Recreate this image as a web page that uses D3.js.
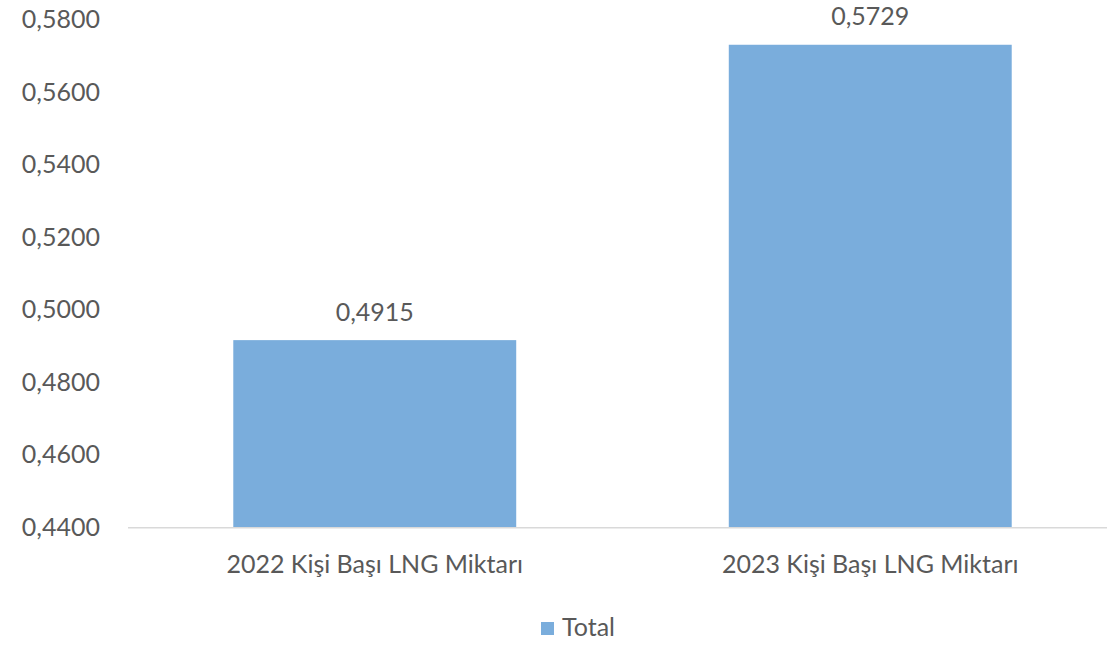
<!DOCTYPE html>
<html><head><meta charset="utf-8">
<script src="https://cdn.jsdelivr.net/npm/d3@7"></script>
<style>body{margin:0;background:#fff}svg{display:block}text{font-family:Lato,"Open Sans",sans-serif;fill:#595959}</style>
</head><body><svg id="c" width="1107" height="648"></svg>
<script>
const categories = ["2022 Kişi Başı LNG Miktarı", "2023 Kişi Başı LNG Miktarı"];
const values = [0.4915, 0.5729];
const tickValues = [0.44, 0.46, 0.48, 0.50, 0.52, 0.54, 0.56, 0.58];
const seriesName = "Total";

const svg = d3.select("#c");
const fmt = v => d3.format(".4f")(v).replace(".", ",");
const y = d3.scaleLinear().domain([0.44, 0.58]).range([527, 19]);
const x = d3.scaleBand().domain(categories).range([127, 1118]).paddingInner(0.429).paddingOuter(0.2145);
const FS = 25;

// y tick labels
svg.append("g").selectAll("text").data(tickValues).join("text")
  .attr("x", 100).attr("y", d => y(d)).attr("dy", "0.36em")
  .attr("text-anchor", "end").attr("font-size", FS).text(fmt);

// bars
const color = "#7aaddc";
svg.append("g").selectAll("rect").data(values).join("rect")
  .attr("x", (d, i) => x(categories[i])).attr("width", x.bandwidth())
  .attr("y", d => y(d)).attr("height", d => y(0.44) - y(d)).attr("fill", color);

// axis line
svg.append("line").attr("x1", 128).attr("x2", 1107).attr("y1", y(0.44) + 0.75).attr("y2", y(0.44) + 0.75)
  .attr("stroke", "#d9d9d9").attr("stroke-width", 1.5);

// data labels
svg.append("g").selectAll("text").data(values).join("text")
  .attr("x", (d, i) => x(categories[i]) + x.bandwidth() / 2).attr("y", d => y(d) - 28.5).attr("dy", "0.36em")
  .attr("text-anchor", "middle").attr("font-size", FS).text(fmt);

// category labels
svg.append("g").selectAll("text").data(categories).join("text")
  .attr("x", d => x(d) + x.bandwidth() / 2).attr("y", 564).attr("dy", "0.36em")
  .attr("text-anchor", "middle").attr("font-size", FS).text(d => d);

// legend
const lg = svg.append("g");
lg.append("rect").attr("x", 541).attr("y", 622).attr("width", 13).attr("height", 13).attr("fill", color);
lg.append("text").attr("x", 562).attr("y", 627).attr("dy", "0.36em").attr("font-size", FS).text(seriesName);
</script></body></html>
